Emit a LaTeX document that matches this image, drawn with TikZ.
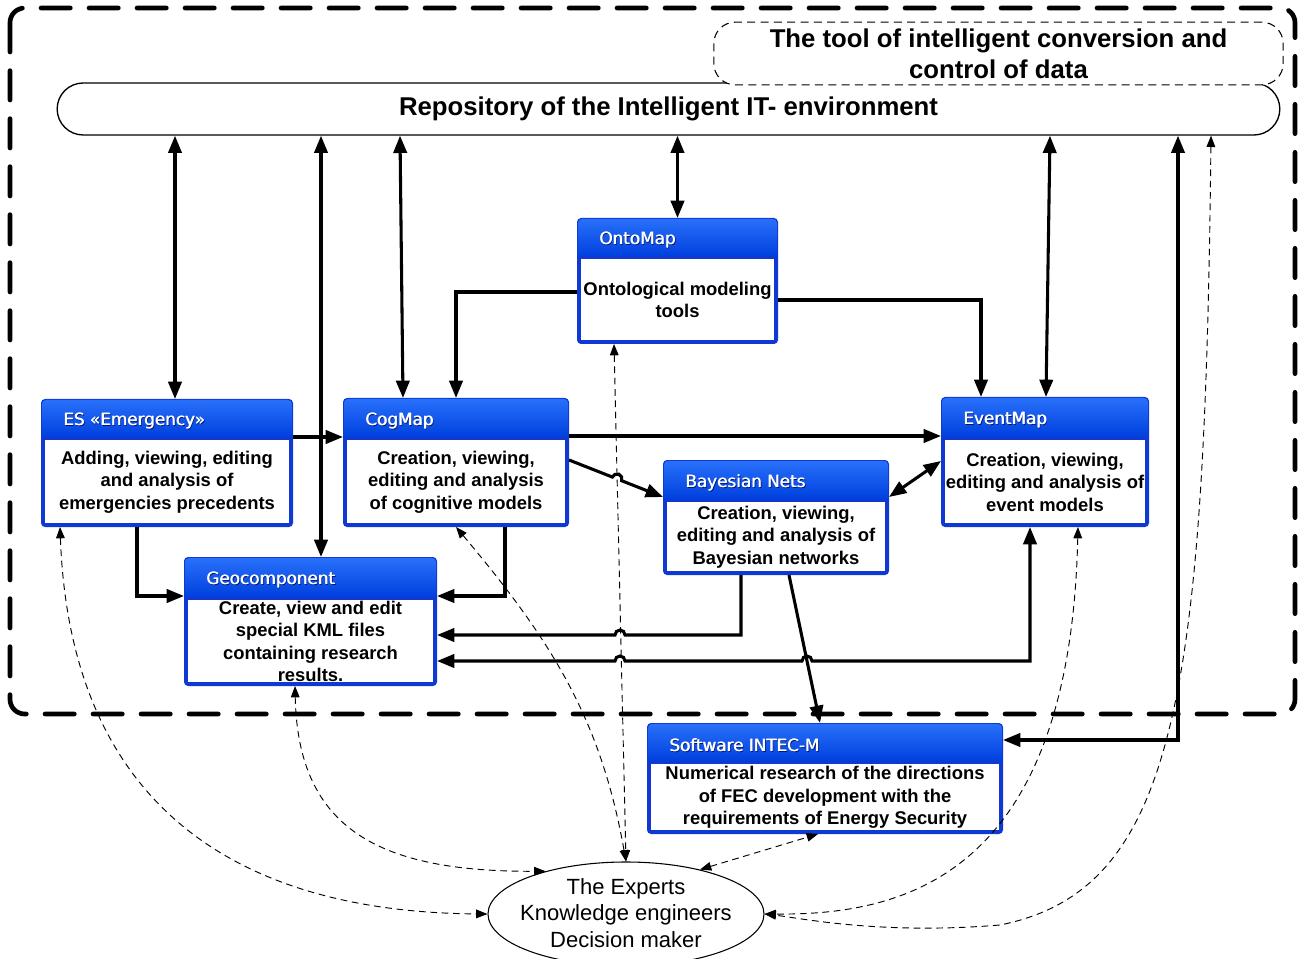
\documentclass[tikz,border=0pt]{standalone}
\usepackage{fontspec}
\setmainfont{Liberation Sans}
\newfontfamily\hdfont{DejaVu Sans}
\usetikzlibrary{arrows.meta,shapes.misc,shapes.geometric,fit,calc}
\definecolor{bordblue}{RGB}{16,56,210}
\definecolor{htop}{RGB}{40,112,250}
\definecolor{hbot}{RGB}{0,64,222}
\definecolor{shadowblue}{RGB}{0,20,110}
\newcommand\bbox[8]{%
 \fill[bordblue,rounded corners=3pt] (#2,-#3) rectangle (#4,-#5);
 \shade[top color=htop,bottom color=hbot] ({#2+1},{-#6}) [rounded corners=3pt] -- ({#2+1},{-#3-1}) -- ({#4-1},{-#3-1}) [sharp corners] -- ({#4-1},{-#6}) -- cycle;
 \fill[white] ({#2+4},{-#6-3}) rectangle ({#4-4},{-#5+4});
 \node[fit={(#2,-#3)(#4,-#5)},inner sep=0,outer sep=0] (#1) {};
 \node[htext,text=shadowblue,anchor=west] (#1-ts) at ({#2+23.2},{-(#3+#6)/2-4.4}) {#7};
 \node[htext,text=white,anchor=west] (#1-t) at ({#2+22},{-(#3+#6)/2-3.4}) {#7};
 \node[htext,text=white,anchor=west] (#1-t2) at ({#2+22.6},{-(#3+#6)/2-3.4}) {#7};
 \node[btext] (#1-b) at ({(#2+#4)/2},{-(#6+#5)/2}) {#8};
}
\begin{document}
\begin{tikzpicture}[x=0.75pt,y=0.75pt,
 thk/.style={line width=2.3pt,>={Triangle[length=13pt,width=10pt]}},
 dsh/.style={line width=0.7pt,dash pattern=on 5pt off 3.5pt,>={Triangle[length=8.5pt,width=6.5pt]}},
 btext/.style={font=\fontsize{13.8}{16.9}\selectfont\bfseries,align=center,inner sep=0},
 htext/.style={font=\hdfont\fontsize{12.6}{14}\selectfont,inner sep=0},
 ]
\clip (0,0) rectangle (1304,-959);
\fill[white] (0,0) rectangle (1304,-959);
% outer dashed frame
\draw[line width=3.5pt, dash pattern=on 22pt off 14pt, line cap=round, rounded corners=11pt] (10,-8) rectangle (1295,-714);
% repository
\node[draw, line width=1pt, rounded rectangle, minimum width=917pt, minimum height=39pt, inner sep=0,
  text height=12pt, text depth=1.5pt,
  font=\fontsize{19.3}{23}\selectfont\bfseries] (repo) at (668.5,-109) {Repository of the Intelligent IT- environment};
\node[draw, line width=0.8pt, dash pattern=on 6pt off 4pt, fill=white, rounded corners=16pt,
  minimum width=427pt, minimum height=47pt, inner sep=0, align=center,
  font=\fontsize{19.3}{23.3}\selectfont\bfseries] (tool) at (998.5,-53.5) {The tool of intelligent conversion and\\control of data};
% boxes
\bbox{onto}{577}{218}{778}{344}{256}{OntoMap}{Ontological modeling\\tools}
\bbox{es}{41}{399}{293}{527}{437}{ES «Emergency»}{Adding, viewing, editing\\and analysis of\\emergencies precedents}
\bbox{cog}{343}{398}{569}{527}{437}{CogMap}{Creation, viewing,\\editing and analysis\\of cognitive models}
\bbox{event}{941}{397}{1149}{527}{437}{EventMap}{Creation, viewing,\\editing and analysis of\\event models}
\bbox{bayes}{663}{460}{889}{575}{499}{Bayesian Nets}{Creation, viewing,\\editing and analysis of\\Bayesian networks}
\bbox{geo}{184}{557}{437}{686}{597}{Geocomponent}{Create, view and edit\\special KML files\\containing research\\results.}
\bbox{soft}{647}{723}{1003}{834}{761}{Software INTEC-M}{Numerical research of the directions\\of FEC development with the\\requirements of Energy Security}
% experts
\node[draw, line width=0.8pt, ellipse, minimum width=207pt, minimum height=78pt, inner sep=0] (experts) at (626,-914) {};
\node[align=center, inner sep=0, font=\fontsize{16.5}{20}\selectfont] (experts-t) at (626,-913) {The Experts\\Knowledge engineers\\Decision maker};
% dashed connectors
\draw[dsh,<->] (onto.south -| 614,0) -- (experts.north);
\draw[dsh,<->] (cog.south) to[out=-50,in=100] (experts.north);
\draw[dsh,<->] (geo.south -| 295,0) .. controls (298,-830) and (380,-872) .. (experts.152);
\draw[dsh,<->] (es.south -| 60,0) .. controls (70,-800) and (230,-912) .. (experts.west);
\draw[dsh,<->] (experts.31) -- (soft.south -| 818,0);
\draw[dsh,<->] (event.south -| 1078,0) .. controls (1070,-880) and (900,-915) .. (experts.east);
\draw[dsh,<->] (repo.south -| 1211,0) .. controls (1205,-700) and (1175,-890) .. (1000,-925) .. controls (880,-935) and (800,-918) .. (experts.east);
% thick connectors
\draw[thk,<->] (es.north -| 175,0) -- (repo.south -| 175,0);
\draw[thk,<->] (geo.north -| 321,0) -- (repo.south -| 321,0);
\draw[thk,<->] (cog.north -| 403,0) -- (repo.south -| 400,0);
\draw[thk,<->] (onto.north) -- (repo.south -| onto.north);
\draw[thk,<->] (event.north -| 1046,0) -- (repo.south -| 1050,0);
\draw[thk,<->] (soft.east |- 0,-740) -| (repo.south -| 1178,0);
\draw[thk,->] (onto.west |- 0,-292) -| (cog.north);
\draw[thk,->] (onto.east |- 0,-300) -| (event.north -| 981,0);
\draw[thk,->] (es.east |- 0,-437) -- (cog.west |- 0,-437);
\draw[thk,->] (cog.east |- 0,-436) -- (event.west |- 0,-436);
\draw[thk,->] (cog.east |- 0,-460) -- (612.35,-477.06) arc[start angle=158.51,end angle=-21.49,radius=5] -- (bayes.west |- 0,-497);
\draw[thk,<->] (bayes.east |- 0,-497) -- (event.west |- 0,-461);
\draw[thk,->] (es.south -| 137,0) |- (geo.west |- 0,-596);
\draw[thk,->] (cog.south -| 505,0) |- (geo.east |- 0,-596);
\draw[thk,->] (bayes.south -| 741,0) -- (741,-635) -- (625,-635) arc[start angle=0,end angle=180,radius=5] -- (geo.east |- 0,-635);
\draw[thk,<->] (event.south -| 1030,0) -- (1030,-661) -- (812,-661) arc[start angle=0,end angle=180,radius=5] -- (625,-661) arc[start angle=0,end angle=180,radius=5] -- (geo.east |- 0,-661);
\draw[thk,->] (bayes.south -| 789,0) -- (soft.north -| 820,0);
\end{tikzpicture}
\end{document}
